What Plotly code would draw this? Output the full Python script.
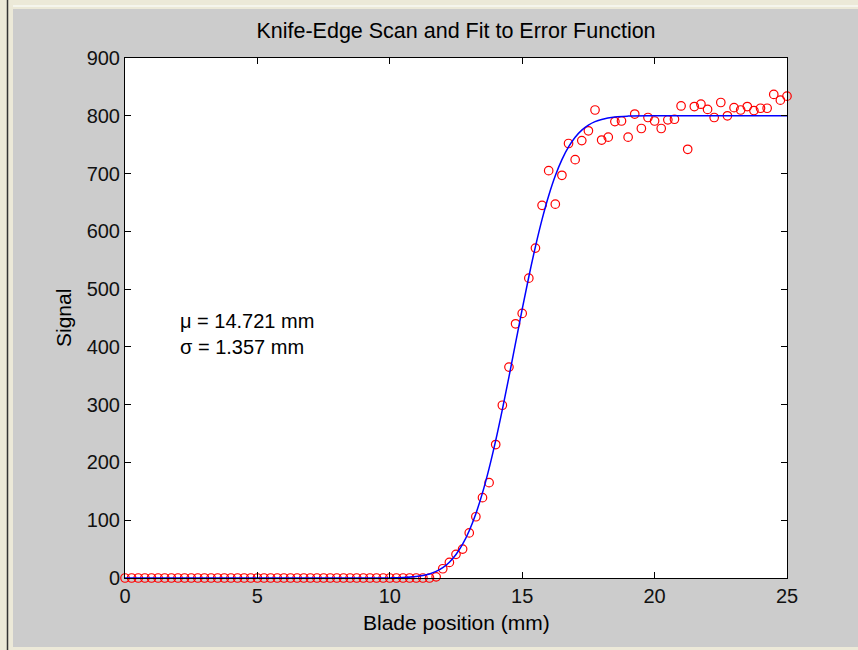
import plotly.graph_objects as go

# ---- data ----
blade_pos = [0.0, 0.25, 0.5, 0.75, 1.0, 1.25, 1.5, 1.75, 2.0, 2.25, 2.5, 2.75,
             3.0, 3.25, 3.5, 3.75, 4.0, 4.25, 4.5, 4.75, 5.0, 5.25, 5.5, 5.75,
             6.0, 6.25, 6.5, 6.75, 7.0, 7.25, 7.5, 7.75, 8.0, 8.25, 8.5, 8.75,
             9.0, 9.25, 9.5, 9.75, 10.0, 10.25, 10.5, 10.75, 11.0, 11.25, 11.5, 11.75,
             12.0, 12.25, 12.5, 12.75, 13.0, 13.25, 13.5, 13.75, 14.0, 14.25, 14.5, 14.75,
             15.0, 15.25, 15.5, 15.75, 16.0, 16.25, 16.5, 16.75, 17.0, 17.25, 17.5, 17.75,
             18.0, 18.25, 18.5, 18.75, 19.0, 19.25, 19.5, 19.75, 20.0, 20.25, 20.5, 20.75,
             21.0, 21.25, 21.5, 21.75, 22.0, 22.25, 22.5, 22.75, 23.0, 23.25, 23.5, 23.75,
             24.0, 24.25, 24.5, 24.75, 25.0]

signal = [0, 0, 0, 0, 0, 0, 0, 0, 0, 0, 0, 0,
          0, 0, 0, 0, 0, 0, 0, 0, 0, 0, 0, 0,
          0, 0, 0, 0, 0, 0, 0, 0, 0, 0, 0, 0,
          0, 0, 0, 0, 0, 0, 0, 0, 0, 0, 0, 2,
          16, 27, 41, 50, 78, 106, 139, 165, 231, 299, 365, 440,
          458, 519, 571, 645, 705, 647, 697, 752, 724, 757, 774, 810,
          758, 763, 790, 791, 763, 803, 778, 797, 791, 778, 793, 794,
          817, 742, 816, 820, 811, 797, 823, 800, 814, 810, 816, 809,
          813, 813, 837, 827, 834]

fit_x = [0.0, 10.0, 10.5, 11.0, 11.25, 11.5, 11.75, 12.0, 12.25, 12.5, 12.75,
         13.0, 13.25, 13.5, 13.75, 14.0, 14.25, 14.5, 14.75, 15.0, 15.25,
         15.5, 15.75, 16.0, 16.25, 16.5, 16.75, 17.0, 17.25, 17.5, 17.75,
         18.0, 18.5, 19.0, 20.0, 25.0]
fit_y = [0.0, 0.2, 0.7, 2.4, 4.2, 7.0, 11.4, 18.0, 27.4, 40.7, 58.6,
         81.9, 111.3, 147.3, 189.7, 238.1, 291.5, 348.2, 406.8, 465.2, 521.4,
         573.6, 620.7, 661.6, 696.1, 724.1, 746.1, 762.8, 775.1, 783.8, 789.8,
         793.7, 797.9, 799.4, 800.0, 800.0]

x_ticks = [0, 5, 10, 15, 20, 25]
y_ticks = [0, 100, 200, 300, 400, 500, 600, 700, 800, 900]

title_text = "Knife-Edge Scan and Fit to Error Function"
x_label = "Blade position (mm)"
y_label = "Signal"
fit_note = "μ = 14.721 mm<br>σ = 1.357 mm"

FONT = "Liberation Sans, Arial, sans-serif"
GRAY = "#cccccc"
CREAM = "#ece9d8"

fig = go.Figure()
fig.add_trace(go.Scatter(
    x=blade_pos, y=signal, mode="markers",
    marker=dict(symbol="circle-open", size=8.5, color="#ff0000",
                line=dict(width=1.2, color="#ff0000")),
    cliponaxis=False, showlegend=False))
fig.add_trace(go.Scatter(
    x=fit_x, y=fit_y, mode="lines", line=dict(color="#0000ff", width=1.5),
    line_shape="spline", cliponaxis=False, showlegend=False))

axis_common = dict(showgrid=False, zeroline=False, showline=True,
                   linecolor="black", linewidth=1, mirror="ticks",
                   ticks="inside", ticklen=6, tickcolor="black", tickwidth=1,
                   tickfont=dict(family=FONT, size=20, color="#111111"))
fig.update_xaxes(range=[0, 25], tickvals=x_ticks, **axis_common)
fig.update_yaxes(range=[0, 900], tickvals=y_ticks, **axis_common)

W, H = 858, 650
L, R, T, B = 125, 71, 58, 72
pw, ph = W - L - R, H - T - B


def px(x):
    return (x - L) / pw


def py(y):
    return (H - B - y) / ph


shapes = [
    dict(type="rect", xref="paper", yref="paper", x0=-0.3, x1=1.3,
         y0=py(9), y1=1.3, fillcolor=CREAM, line=dict(width=0), layer="above"),
    dict(type="line", xref="paper", yref="paper", x0=px(13), x1=1.3,
         y0=py(6), y1=py(6), line=dict(color="#f8f8f4", width=1.5), layer="above"),
    dict(type="rect", xref="paper", yref="paper", x0=-0.3, x1=px(13),
         y0=-0.3, y1=1.3, fillcolor=CREAM, line=dict(width=0), layer="above"),
    dict(type="rect", xref="paper", yref="paper", x0=-0.3, x1=1.3,
         y0=-0.3, y1=py(647), fillcolor=CREAM, line=dict(width=0), layer="above"),
    dict(type="line", xref="paper", yref="paper", x0=px(7.5), x1=px(7.5),
         y0=-0.3, y1=1.3, line=dict(color="#333333", width=1.5), layer="above"),
]

annotations = [
    dict(text=fit_note, x=2.0, y=423, xref="x", yref="y", xanchor="left",
         yanchor="middle", align="left", showarrow=False,
         font=dict(family=FONT, size=20, color="black")),
    dict(text=x_label, x=0.5, y=py(622), xref="paper", yref="paper",
         xanchor="center", yanchor="middle", showarrow=False,
         font=dict(family=FONT, size=21, color="black")),
    dict(text=y_label, x=px(63), y=0.5, xref="paper", yref="paper",
         xanchor="center", yanchor="middle", textangle=-90, showarrow=False,
         font=dict(family=FONT, size=21, color="black")),
]

fig.update_layout(
    width=W, height=H, margin=dict(l=L, r=R, t=T, b=B, pad=0),
    paper_bgcolor=GRAY, plot_bgcolor="white",
    title=dict(text=title_text, x=0.5, xref="paper", xanchor="center",
               y=1 - 30 / H, yref="container", yanchor="middle",
               font=dict(family=FONT, size=21.5, color="black")),
    shapes=shapes, annotations=annotations, showlegend=False,
)

fig.write_html(
    "out.html",
    config={"displayModeBar": False},
    post_script="document.body.style.margin='0';document.body.style.overflow='hidden';",
)
